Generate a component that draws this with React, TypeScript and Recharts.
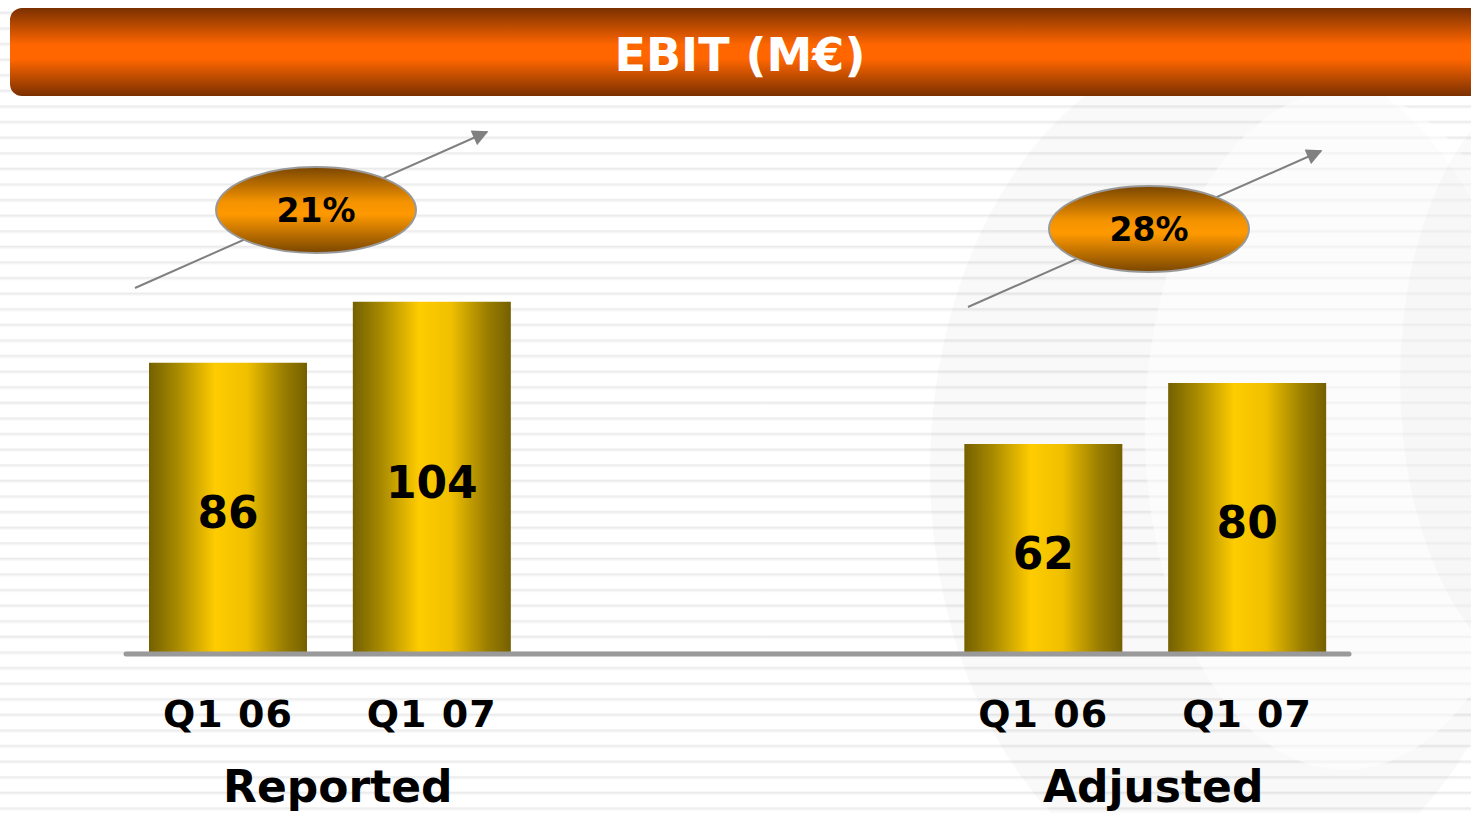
import { BarChart, Bar, XAxis, YAxis, LabelList } from 'recharts';

// EBIT (M€), Q1 06 vs Q1 07, reported and adjusted
const slots = ['rep06', 'rep07', 'gap1', 'gap2', 'adj06', 'adj07'];
const periods = ['Q1 06', 'Q1 07', '', '', 'Q1 06', 'Q1 07'];
const ebit = [86, 104, null, null, 62, 80];
const groups = ['Reported', 'Adjusted'];
const groupStart = [0, 4];
const growth = ['21%', '28%'];

const data = slots.map((slot, i) => ({ slot, period: periods[i], ebit: ebit[i] }));

const W = 1471;
const H = 813;
const M = { top: 146, right: 122, left: 126, bottom: 99 };
const PLOT_W = W - M.left - M.right;
const BAND = PLOT_W / slots.length;
const FONT = '"DejaVu Sans", Verdana, sans-serif';

// badge + arrow placement for each group
const badges = [
  { cx: 316, cy: 210, x1: 135, y1: 288, x2: 487, y2: 132 },
  { cx: 1149, cy: 229, x1: 968, y1: 307, x2: 1321, y2: 151 },
];

function PeriodTick(props: any) {
  const { x, y, payload } = props;
  const i = slots.indexOf(payload.value);
  const g = groupStart.indexOf(i);
  return (
    <g>
      <text x={x} y={y + 73} textAnchor="middle" fontFamily={FONT} fontWeight="bold" fontSize={38} fill="#000" letterSpacing={1}>
        {periods[i]}
      </text>
      {g >= 0 && (
        <text x={x + BAND / 2 + 8} y={y + 148} textAnchor="middle" fontFamily={FONT} fontWeight="bold" fontSize={44} fill="#000">
          {groups[g]}
        </text>
      )}
    </g>
  );
}

export default function App() {
  return (
    <div
      style={{
        position: 'absolute',
        left: 0,
        top: 0,
        width: W,
        height: H,
        overflow: 'hidden',
        background: 'repeating-linear-gradient(to bottom, #ffffff 0px, #ffffff 11px, #ebebeb 12.5px, #ffffff 15.6px)',
      }}
    >
      <svg width={W} height={H} style={{ position: 'absolute', left: 0, top: 0 }}>
        <ellipse cx={1235} cy={470} rx={305} ry={430} fill="#000" opacity={0.022} />
        <ellipse cx={1345} cy={430} rx={200} ry={340} fill="#fff" opacity={0.5} />
        <ellipse cx={1560} cy={380} rx={160} ry={300} fill="#000" opacity={0.02} />
      </svg>

      <div style={{ position: 'absolute', left: 0, top: 0 }}>
        <BarChart width={W} height={H} data={data} margin={M}>
          <defs>
            <linearGradient id="gold" x1="0" y1="0" x2="1" y2="0">
              <stop offset="0%" stopColor="#746000" />
              <stop offset="18%" stopColor="#a88a00" />
              <stop offset="42%" stopColor="#ffcc00" />
              <stop offset="62%" stopColor="#f0c000" />
              <stop offset="85%" stopColor="#9a7e00" />
              <stop offset="100%" stopColor="#756000" />
            </linearGradient>
          </defs>
          <YAxis hide domain={[0, 150]} />
          <XAxis
            dataKey="slot"
            height={60}
            tickSize={0}
            tickMargin={0}
            interval={0}
            tick={<PeriodTick />}
            axisLine={{ stroke: '#9a9a9a', strokeWidth: 5, strokeLinecap: 'round' }}
          />
          <Bar dataKey="ebit" barSize={158} fill="url(#gold)" isAnimationActive={false}>
            <LabelList
              dataKey="ebit"
              position="center"
              fill="#000"
              fontSize={44}
              fontWeight="bold"
              fontFamily={FONT}
              dy={4}
            />
          </Bar>
        </BarChart>
      </div>

      <svg width={W} height={H} style={{ position: 'absolute', left: 0, top: 0 }}>
        <defs>
          <linearGradient id="titleGrad" x1="0" y1="0" x2="0" y2="1">
            <stop offset="0%" stopColor="#7a3000" />
            <stop offset="42%" stopColor="#ff6600" />
            <stop offset="58%" stopColor="#ff6600" />
            <stop offset="100%" stopColor="#7a3000" />
          </linearGradient>
          <linearGradient id="badgeGrad" x1="0" y1="0" x2="0" y2="1">
            <stop offset="0%" stopColor="#7a4600" />
            <stop offset="40%" stopColor="#f39200" />
            <stop offset="55%" stopColor="#ff9900" />
            <stop offset="100%" stopColor="#7a4600" />
          </linearGradient>
          <marker id="head" viewBox="0 0 10 10" refX="9" refY="5" markerWidth="9" markerHeight="8" orient="auto">
            <path d="M0,0 L10,5 L0,10 z" fill="#808080" />
          </marker>
        </defs>
        <rect x={10} y={8} width={1480} height={88} rx={12} fill="url(#titleGrad)" />
        <text x={740} y={71} textAnchor="middle" fontFamily={FONT} fontWeight="bold" fontSize={46} fill="#fff">
          EBIT (M€)
        </text>
        {badges.map((b, i) => (
          <g key={i}>
            <line x1={b.x1} y1={b.y1} x2={b.x2} y2={b.y2} stroke="#808080" strokeWidth={2} markerEnd="url(#head)" />
            <ellipse cx={b.cx} cy={b.cy} rx={100} ry={43} fill="url(#badgeGrad)" stroke="#999" strokeWidth={2} />
            <text x={b.cx} y={b.cy + 12} textAnchor="middle" fontFamily={FONT} fontWeight="bold" fontSize={33} fill="#000">
              {growth[i]}
            </text>
          </g>
        ))}
      </svg>
    </div>
  );
}
